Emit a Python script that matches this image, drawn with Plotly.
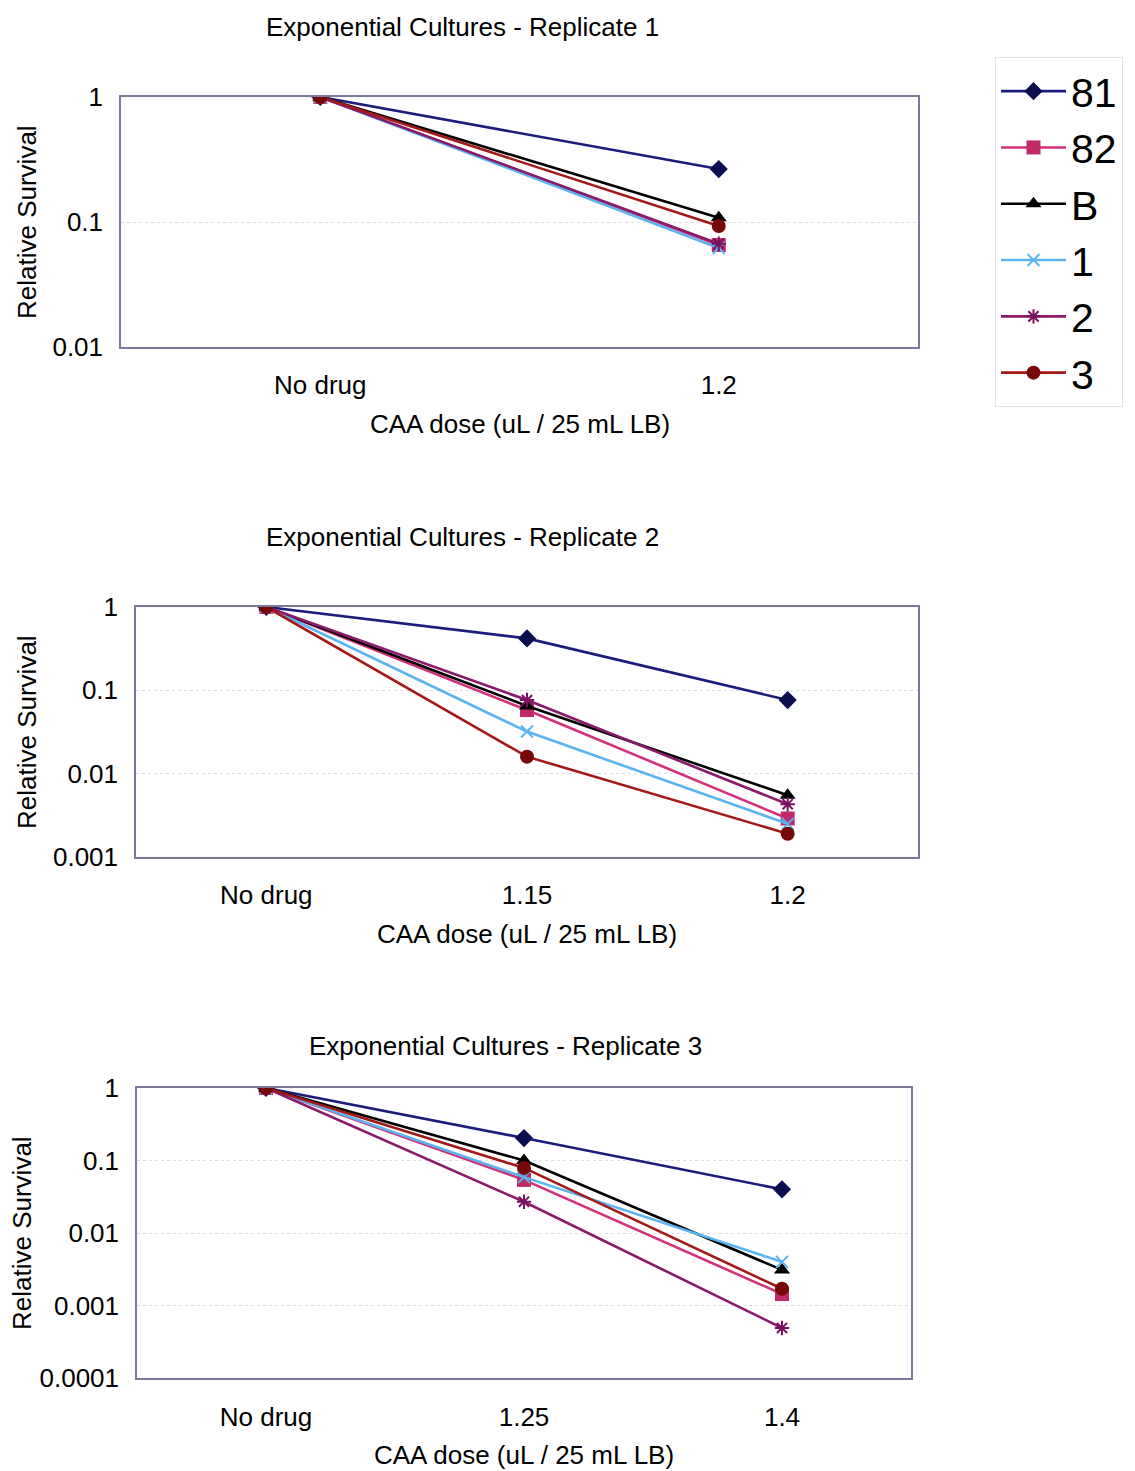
import plotly.graph_objects as go

W, H = 1135, 1471

series = ["81", "82", "B", "1", "2", "3"]
colors = {"81": "#1c1c7c", "82": "#d4317a", "B": "#000000",
          "1": "#5ab4f0", "2": "#8a1a6a", "3": "#a41818"}
marker_colors = {"81": "#0c0c50", "82": "#c02a68", "B": "#000000",
                 "1": "#5ab4f0", "2": "#7a1060", "3": "#780808"}
symbols = {"81": "diamond", "82": "square", "B": "triangle-up",
           "1": "x-thin-open", "2": "asterisk-open", "3": "circle"}

# Replicate 1
cats1 = ["No drug", "1.2"]
rep1 = {
    "81": [1, 0.265],
    "82": [1, 0.0655],
    "B":  [1, 0.108],
    "1":  [1, 0.062],
    "2":  [1, 0.067],
    "3":  [1, 0.093],
}
# Replicate 2
cats2 = ["No drug", "1.15", "1.2"]
rep2 = {
    "81": [1, 0.42, 0.0765],
    "82": [1, 0.058, 0.0029],
    "B":  [1, 0.065, 0.0055],
    "1":  [1, 0.032, 0.0025],
    "2":  [1, 0.0765, 0.0043],
    "3":  [1, 0.016, 0.0019],
}
# Replicate 3
cats3 = ["No drug", "1.25", "1.4"]
rep3 = {
    "81": [1, 0.204, 0.040],
    "82": [1, 0.054, 0.00144],
    "B":  [1, 0.100, 0.0031],
    "1":  [1, 0.059, 0.0040],
    "2":  [1, 0.027, 0.00049],
    "3":  [1, 0.079, 0.0017],
}

ytick_vals = [1, 0.1, 0.01, 0.001, 0.0001]
ytick_text = ["1", "0.1", "0.01", "0.001", "0.0001"]

titles = ["Exponential Cultures - Replicate 1",
          "Exponential Cultures - Replicate 2",
          "Exponential Cultures - Replicate 3"]
xtitle = "CAA dose (uL / 25 mL LB)"
ytitle = "Relative Survival"

FONT = "Liberation Sans, Arial, sans-serif"
FS = 26

# panel pixel boxes: (x0, x1, y0_top, y1_bottom)
boxes = [(121, 918, 97, 347), (136, 918, 607, 857), (137, 911, 1088, 1378)]
decades = [2, 3, 4]
title_pos = [(462, 27), (462, 537), (505, 1046)]
ytitle_x = [27, 27, 22]
xlab_gap = [14, 14, 15]

fig = go.Figure()
datasets = [(cats1, rep1), (cats2, rep2), (cats3, rep3)]
for i, (cats, rep) in enumerate(datasets):
    ax = "" if i == 0 else str(i + 1)
    for s in series:
        thin = s in ("1", "2")
        fig.add_trace(go.Scatter(
            x=cats, y=rep[s], mode="lines+markers", name=s,
            legendgroup=s, showlegend=(i == 0),
            line=dict(color=colors[s], width=2.6),
            marker=dict(symbol=symbols[s], size=14 if not thin else 12,
                        color=marker_colors[s],
                        line=dict(color=marker_colors[s], width=2 if thin else 0)),
            xaxis="x" + ax, yaxis="y" + ax,
        ))

layout = dict(
    width=W, height=H, margin=dict(l=0, r=0, t=0, b=0, autoexpand=False),
    paper_bgcolor="white", plot_bgcolor="white",
    font=dict(family=FONT, size=FS, color="black"),
    showlegend=True,
    legend=dict(x=995 / W, y=1 - 57 / H, xanchor="left", yanchor="top",
                font=dict(size=41, family=FONT), bordercolor="#e2e2ea", borderwidth=1,
                tracegroupgap=0, itemwidth=65, bgcolor="white"),
    annotations=[],
)
for i, (x0, x1, yt, yb) in enumerate(boxes):
    ax = "" if i == 0 else str(i + 1)
    xkey = "xaxis" + ax
    ykey = "yaxis" + ax
    layout[xkey] = dict(
        domain=[x0 / W, x1 / W], anchor="y" + ax, type="category",
        range=[-0.5, len(datasets[i][0]) - 0.5],
        showline=True, mirror=True, linecolor="#7a7a98", linewidth=1.5,
        showgrid=False, ticks="outside", ticklen=0, ticklabelstandoff=xlab_gap[i],
        tickfont=dict(size=FS), zeroline=False, automargin=False,
    )
    layout[ykey] = dict(
        domain=[1 - yb / H, 1 - yt / H], anchor="x" + ax, type="log",
        range=[-decades[i], 0],
        tickvals=ytick_vals[:decades[i] + 1], ticktext=ytick_text[:decades[i] + 1],
        showline=True, mirror=True, linecolor="#7a7a98", linewidth=1.5,
        showgrid=True, gridcolor="#dcdce4", griddash="dot", gridwidth=1,
        ticks="outside", ticklen=0, ticklabelstandoff=11,
        tickfont=dict(size=FS), zeroline=False, automargin=False,
    )
    tx, ty = title_pos[i]
    layout["annotations"].append(dict(
        text=titles[i], x=tx / W, y=1 - ty / H, xref="paper", yref="paper",
        showarrow=False, xanchor="center", yanchor="middle", font=dict(size=FS)))
    layout["annotations"].append(dict(
        text=xtitle, x=(x0 + x1) / 2 / W, y=1 - (yb + 77) / H, xref="paper", yref="paper",
        showarrow=False, xanchor="center", yanchor="middle", font=dict(size=FS)))
    layout["annotations"].append(dict(
        text=ytitle, x=ytitle_x[i] / W, y=1 - (yt + yb) / 2 / H, xref="paper", yref="paper",
        showarrow=False, xanchor="center", yanchor="middle", textangle=-90, font=dict(size=FS)))

fig.update_layout(**layout)
fig.write_html("out.html")
